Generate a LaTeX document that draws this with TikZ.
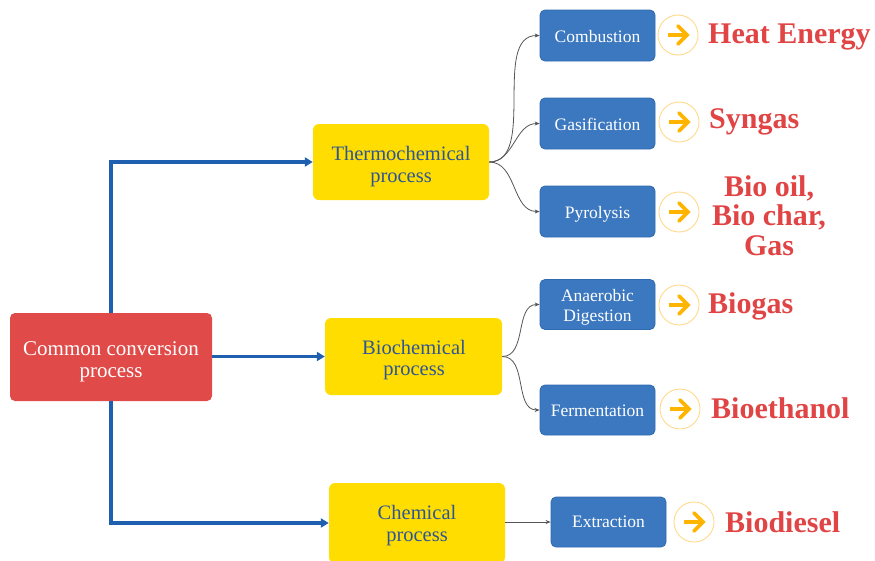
\documentclass[tikz,border=0pt]{standalone}
\usepackage{fontspec}
\setmainfont{Liberation Serif}
\usetikzlibrary{arrows.meta}
\definecolor{redbox}{HTML}{E04A48}
\definecolor{yelbox}{HTML}{FFDD00}
\definecolor{yeltext}{HTML}{2E5597}
\definecolor{bluebox}{HTML}{3C78C0}
\definecolor{blueedge}{HTML}{2F6BB0}
\definecolor{blueline}{HTML}{1F5FB0}
\definecolor{grayline}{HTML}{555555}
\definecolor{circedge}{HTML}{FFD98A}
\definecolor{arrorange}{HTML}{FFB400}
\definecolor{restext}{HTML}{E04444}
\tikzset{
  rednode/.style={fill=redbox, rounded corners=5pt, inner sep=0pt},
  yelnode/.style={fill=yelbox, rounded corners=6pt, inner sep=0pt},
  bluenode/.style={fill=bluebox, draw=blueedge, line width=0.8pt, rounded corners=5pt, inner sep=0pt},
  redlbl/.style={anchor=base, text=white, font=\fontsize{21}{24}\selectfont, inner sep=0pt},
  yellbl/.style={anchor=base, text=yeltext, font=\fontsize{20.5}{24}\selectfont, inner sep=0pt},
  bluelbl/.style={anchor=base, text=white, font=\fontsize{17.5}{20}\selectfont, inner sep=0pt},
  reslbl/.style={anchor=base west, text=restext, font=\bfseries\fontsize{30}{34}\selectfont, inner sep=0pt},
  resclbl/.style={anchor=base, text=restext, font=\bfseries\fontsize{30}{34}\selectfont, inner sep=0pt},
  circnode/.style={circle, draw=circedge, line width=0.9pt, minimum size=40pt, inner sep=0pt},
  mainconn/.style={draw=blueline, line width=3.2pt, -{Triangle[length=8pt,width=9pt]}},
  subconn/.style={draw=grayline, line width=0.8pt, -{Stealth[length=5pt,width=4pt]}},
}
\newcommand{\orarrow}[1]{%
  \draw[arrorange, line width=3.6pt] ([xshift=-10pt]#1.center) -- ([xshift=8pt]#1.center);
  \draw[arrorange, line width=3.6pt, line cap=round, line join=miter] ([xshift=0pt,yshift=-9pt]#1.center) -- ([xshift=9pt]#1.center) -- ([xshift=0pt,yshift=9pt]#1.center);
}
\begin{document}
\begin{tikzpicture}[x=1pt,y=-1pt]
\useasboundingbox (0,0) rectangle (875,560);
% main boxes
\node[rednode, minimum width=202pt, minimum height=88pt] (common) at (111,357) {};
\node[yelnode, minimum width=176pt, minimum height=76pt] (thermo) at (401,162) {};
\node[yelnode, minimum width=177pt, minimum height=77pt] (bio) at (413.5,356.5) {};
\node[yelnode, minimum width=176pt, minimum height=80pt] (chem) at (417,523) {};
\node[redlbl] (commonA) at (111,355) {Common conversion};
\node[redlbl] (commonB) at (111,377) {process};
\node[yellbl] (thermoA) at (401,160) {Thermochemical};
\node[yellbl] (thermoB) at (401,182) {process};
\node[yellbl] (bioA) at (414,354) {Biochemical};
\node[yellbl] (bioB) at (414,375) {process};
\node[yellbl] (chemA) at (417,519) {Chemical};
\node[yellbl] (chemB) at (417,541) {process};
% blue boxes
\node[bluenode, minimum width=115pt, minimum height=51pt] (comb) at (597.5,35.5) {};
\node[bluenode, minimum width=115pt, minimum height=51pt] (gas) at (597.5,123.5) {};
\node[bluenode, minimum width=115pt, minimum height=51pt] (pyro) at (597.5,211.5) {};
\node[bluenode, minimum width=115pt, minimum height=50pt] (anae) at (597.5,304.5) {};
\node[bluenode, minimum width=115pt, minimum height=50pt] (ferm) at (597.5,410) {};
\node[bluenode, minimum width=115pt, minimum height=50pt] (extr) at (608.5,522) {};
\node[bluelbl] (combL) at (597.5,42) {Combustion};
\node[bluelbl] (gasL) at (597.5,130) {Gasification};
\node[bluelbl] (pyroL) at (597.5,218) {Pyrolysis};
\node[bluelbl] (anaeA) at (597.5,301) {Anaerobic};
\node[bluelbl] (anaeB) at (597.5,321) {Digestion};
\node[bluelbl] (fermL) at (597.5,416) {Fermentation};
\node[bluelbl] (extrL) at (608.5,527) {Extraction};
% circles with arrows
\node[circnode] (c1) at (678,35) {};
\node[circnode] (c2) at (679,122) {};
\node[circnode] (c3) at (679,212) {};
\node[circnode] (c4) at (679,305) {};
\node[circnode] (c5) at (680,409) {};
\node[circnode] (c6) at (694,522) {};
\orarrow{c1}\orarrow{c2}\orarrow{c3}\orarrow{c4}\orarrow{c5}\orarrow{c6}
% results
\node[reslbl] (r1) at (708,43) {Heat Energy};
\node[reslbl] (r2) at (709,128) {Syngas};
\node[resclbl] (r3a) at (769,196) {Bio oil,};
\node[resclbl] (r3b) at (769,225) {Bio char,};
\node[resclbl] (r3c) at (769,255) {Gas};
\node[reslbl] (r4) at (708,313) {Biogas};
\node[reslbl] (r5) at (711,418) {Bioethanol};
\node[reslbl] (r6) at (725,532) {Biodiesel};
% main connectors
\draw[mainconn] (common.north) |- (thermo.west);
\draw[mainconn] (common.east |- bio.west) -- (bio.west);
\draw[mainconn] (common.south) |- (chem.west);
% sub connectors
\draw[subconn] (thermo.east) to[out=0,in=180,looseness=0.9] (comb.west);
\draw[subconn] (thermo.east) to[out=0,in=180] (gas.west);
\draw[subconn] (thermo.east) to[out=0,in=180] (pyro.west);
\draw[subconn] (bio.east) to[out=0,in=180] (anae.west);
\draw[subconn] (bio.east) to[out=0,in=180] (ferm.west);
\draw[subconn] (chem.east |- extr.west) -- (extr.west);
\end{tikzpicture}
\end{document}
